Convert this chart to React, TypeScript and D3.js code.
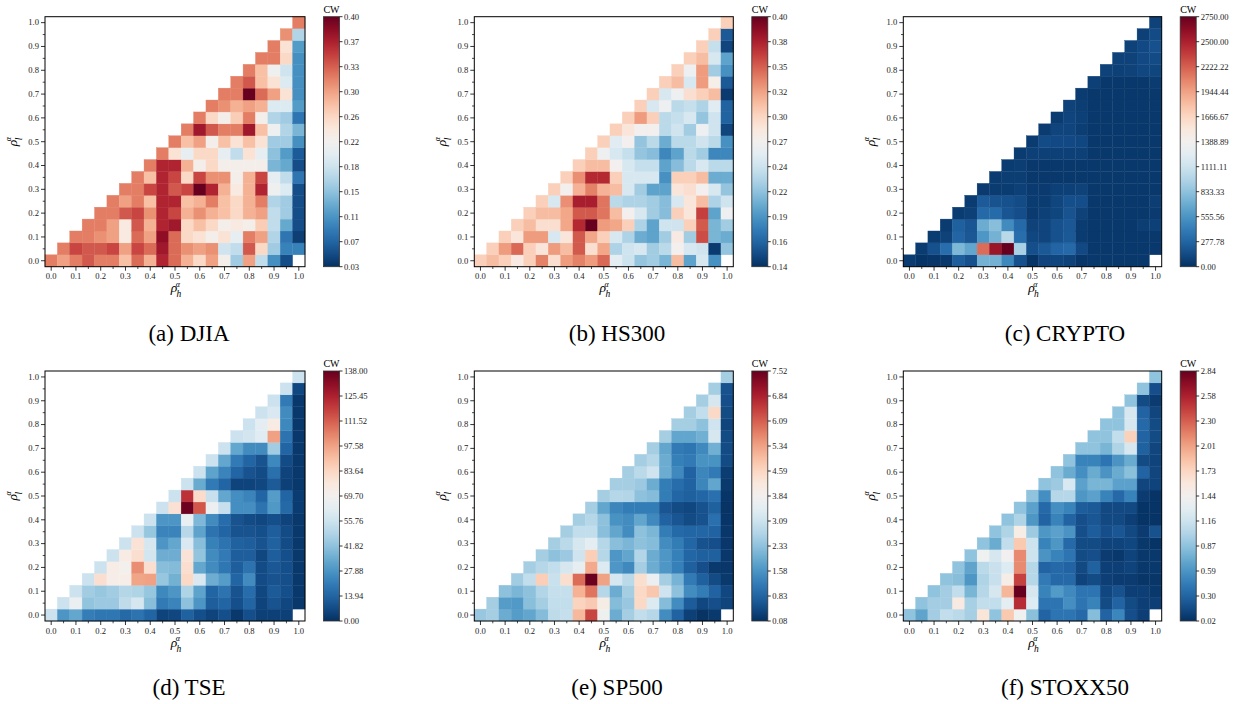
import React from "react";
import * as d3 from "d3";

// ---------- categories / ticks ----------
const RHO = [0.0, 0.05, 0.1, 0.15, 0.2, 0.25, 0.3, 0.35, 0.4, 0.45, 0.5, 0.55, 0.6, 0.65, 0.7, 0.75, 0.8, 0.85, 0.9, 0.95, 1.0];
const MAJOR_TICKS = [0.0, 0.1, 0.2, 0.3, 0.4, 0.5, 0.6, 0.7, 0.8, 0.9, 1.0];
const MAJOR_TICK_LABELS = ["0.0", "0.1", "0.2", "0.3", "0.4", "0.5", "0.6", "0.7", "0.8", "0.9", "1.0"];
const MINOR_TICKS = [0.05, 0.15, 0.25, 0.35, 0.45, 0.55, 0.65, 0.75, 0.85, 0.95];

// ---------- data: row r (rho_l = RHO[r]) holds values for rho_h = RHO[r..20] ----------
const DJIA_ROWS = [
  [0.31, 0.29, 0.31, 0.33, 0.31, 0.31, 0.27, 0.32, 0.28, 0.36, 0.32, 0.28, 0.25, 0.29, 0.22, 0.15, 0.29, 0.17, 0.10, 0.05, NaN],
  [0.31, 0.34, 0.33, 0.33, 0.34, 0.29, 0.34, 0.32, 0.37, 0.32, 0.30, 0.29, 0.30, 0.18, 0.17, 0.33, 0.25, 0.15, 0.09, 0.09],
  [0.31, 0.31, 0.30, 0.29, 0.23, 0.32, 0.29, 0.38, 0.32, 0.25, 0.24, 0.22, 0.24, 0.20, 0.31, 0.29, 0.16, 0.08, 0.04],
  [0.31, 0.31, 0.29, 0.23, 0.33, 0.28, 0.36, 0.37, 0.25, 0.27, 0.25, 0.22, 0.23, 0.22, 0.26, 0.17, 0.12, 0.05],
  [0.31, 0.31, 0.33, 0.34, 0.30, 0.36, 0.34, 0.28, 0.30, 0.28, 0.27, 0.25, 0.28, 0.29, 0.17, 0.15, 0.05],
  [0.31, 0.29, 0.31, 0.27, 0.36, 0.36, 0.27, 0.28, 0.31, 0.27, 0.25, 0.28, 0.31, 0.16, 0.15, 0.05],
  [0.31, 0.31, 0.34, 0.36, 0.33, 0.34, 0.40, 0.36, 0.28, 0.23, 0.28, 0.36, 0.21, 0.19, 0.05],
  [0.31, 0.27, 0.36, 0.34, 0.25, 0.34, 0.30, 0.30, 0.22, 0.28, 0.34, 0.20, 0.17, 0.08],
  [0.31, 0.36, 0.36, 0.28, 0.22, 0.25, 0.22, 0.22, 0.22, 0.22, 0.13, 0.12, 0.05],
  [0.31, 0.24, 0.20, 0.25, 0.25, 0.20, 0.17, 0.24, 0.20, 0.14, 0.11, 0.06],
  [0.31, 0.27, 0.29, 0.22, 0.27, 0.24, 0.27, 0.24, 0.15, 0.15, 0.10],
  [0.31, 0.37, 0.33, 0.31, 0.31, 0.37, 0.27, 0.21, 0.16, 0.13],
  [0.31, 0.25, 0.22, 0.26, 0.31, 0.22, 0.16, 0.15, 0.08],
  [0.31, 0.30, 0.28, 0.29, 0.28, 0.19, 0.19, 0.11],
  [0.31, 0.31, 0.40, 0.32, 0.29, 0.24, 0.10],
  [0.31, 0.33, 0.27, 0.24, 0.19, 0.10],
  [0.31, 0.27, 0.21, 0.18, 0.10],
  [0.31, 0.31, 0.25, 0.10],
  [0.31, 0.24, 0.11],
  [0.30, 0.16],
  [0.31],
];
const DJIA_CBAR = ["0.03", "0.07", "0.11", "0.15", "0.18", "0.22", "0.26", "0.30", "0.33", "0.37", "0.40"];

const HS300_ROWS = [
  [0.30, 0.31, 0.30, 0.28, 0.30, 0.335, 0.29, 0.325, 0.335, 0.325, 0.345, 0.257, 0.244, 0.22, 0.225, 0.21, 0.31, 0.20, 0.25, 0.19, NaN],
  [0.30, 0.325, 0.345, 0.30, 0.285, 0.325, 0.31, 0.35, 0.29, 0.32, 0.23, 0.245, 0.25, 0.225, 0.235, 0.27, 0.25, 0.245, 0.145, 0.22],
  [0.30, 0.285, 0.325, 0.325, 0.25, 0.285, 0.35, 0.32, 0.30, 0.25, 0.23, 0.205, 0.20, 0.225, 0.28, 0.225, 0.355, 0.21, 0.205],
  [0.30, 0.31, 0.29, 0.29, 0.32, 0.37, 0.40, 0.325, 0.32, 0.30, 0.23, 0.20, 0.245, 0.245, 0.30, 0.35, 0.21, 0.225],
  [0.30, 0.31, 0.31, 0.32, 0.35, 0.35, 0.34, 0.31, 0.27, 0.25, 0.225, 0.215, 0.30, 0.285, 0.36, 0.20, 0.265],
  [0.30, 0.25, 0.33, 0.375, 0.375, 0.34, 0.235, 0.23, 0.23, 0.225, 0.215, 0.25, 0.285, 0.31, 0.23, 0.245],
  [0.30, 0.27, 0.315, 0.335, 0.315, 0.31, 0.25, 0.225, 0.20, 0.20, 0.285, 0.29, 0.27, 0.25, 0.22],
  [0.30, 0.33, 0.37, 0.37, 0.30, 0.25, 0.25, 0.25, 0.19, 0.30, 0.30, 0.31, 0.205, 0.205],
  [0.30, 0.31, 0.31, 0.27, 0.25, 0.24, 0.24, 0.20, 0.215, 0.235, 0.25, 0.235, 0.235],
  [0.30, 0.265, 0.25, 0.24, 0.22, 0.215, 0.185, 0.20, 0.235, 0.225, 0.185, 0.185],
  [0.30, 0.255, 0.27, 0.22, 0.235, 0.205, 0.235, 0.235, 0.245, 0.235, 0.19],
  [0.30, 0.285, 0.27, 0.27, 0.235, 0.245, 0.225, 0.265, 0.245, 0.15],
  [0.30, 0.325, 0.30, 0.235, 0.24, 0.25, 0.22, 0.245, 0.165],
  [0.30, 0.25, 0.265, 0.235, 0.24, 0.23, 0.255, 0.165],
  [0.30, 0.25, 0.265, 0.29, 0.30, 0.31, 0.145],
  [0.30, 0.31, 0.25, 0.325, 0.275, 0.16],
  [0.30, 0.265, 0.325, 0.225, 0.19],
  [0.30, 0.31, 0.25, 0.20],
  [0.30, 0.24, 0.15],
  [0.30, 0.16],
  [0.30],
];
const HS300_CBAR = ["0.14", "0.16", "0.19", "0.22", "0.24", "0.27", "0.30", "0.32", "0.35", "0.38", "0.40"];

const CRYPTO_ROWS = [
  [60, 20, 30, 40, 240, 170, 720, 720, 480, 170, 20, 100, 110, 90, 30, 40, 40, 40, 40, 40, NaN],
  [60, 170, 330, 760, 650, 2150, 2550, 2750, 930, 160, 210, 280, 300, 130, 40, 40, 40, 40, 40, 40],
  [60, 90, 280, 200, 560, 720, 1000, 330, 120, 100, 170, 210, 60, 40, 40, 40, 40, 40, 40],
  [60, 250, 190, 690, 800, 500, 300, 90, 100, 170, 200, 60, 40, 40, 40, 40, 70, 80],
  [60, 80, 300, 310, 190, 150, 50, 80, 110, 180, 90, 40, 40, 40, 40, 40, 50],
  [60, 220, 180, 170, 140, 60, 60, 110, 160, 150, 40, 40, 40, 40, 40, 70],
  [50, 60, 60, 80, 50, 50, 80, 80, 90, 40, 40, 40, 40, 40, 40],
  [60, 70, 70, 40, 40, 40, 40, 40, 40, 40, 40, 40, 40, 40],
  [60, 70, 40, 40, 40, 40, 40, 40, 40, 40, 40, 40, 40],
  [60, 80, 80, 80, 80, 80, 40, 40, 40, 40, 40, 40],
  [60, 140, 130, 130, 120, 40, 40, 40, 40, 40, 40],
  [60, 100, 100, 70, 40, 40, 40, 40, 40, 40],
  [60, 100, 80, 40, 40, 40, 40, 40, 40],
  [90, 70, 40, 40, 40, 40, 40, 40],
  [60, 40, 40, 40, 40, 40, 40],
  [80, 40, 40, 40, 40, 60],
  [90, 80, 90, 120, 110],
  [90, 90, 130, 140],
  [90, 130, 170],
  [80, 140],
  [90],
];
const CRYPTO_CBAR = ["0.00", "277.78", "555.56", "833.33", "1111.11", "1388.89", "1666.67", "1944.44", "2222.22", "2500.00", "2750.00"];

const TSE_ROWS = [
  [55, 28, 33, 21, 19, 19, 15, 18, 14, 5, 6, 13, 8, 5, 8, 2, 8, 4, 4, 4, NaN],
  [55, 66, 42, 44, 44, 52, 58, 40, 20, 23, 41, 28, 12, 14, 8, 14, 5, 9, 6, 2],
  [55, 45, 43, 45, 49, 48, 43, 24, 28, 48, 32, 14, 18, 9, 16, 6, 11, 8, 2],
  [55, 80, 72, 72, 96, 97, 43, 36, 82, 59, 35, 30, 14, 25, 7, 9, 8, 2],
  [55, 73, 70, 101, 80, 40, 39, 80, 33, 25, 19, 12, 18, 7, 10, 8, 2],
  [55, 74, 80, 57, 35, 35, 78, 42, 25, 20, 12, 12, 6, 12, 8, 2],
  [55, 78, 58, 28, 33, 59, 40, 22, 18, 13, 12, 9, 13, 7, 2],
  [55, 43, 23, 23, 50, 32, 18, 14, 9, 9, 8, 12, 7, 2],
  [55, 28, 28, 64, 38, 25, 16, 9, 7, 6, 8, 5, 2],
  [55, 79, 137, 112, 66, 54, 26, 26, 18, 29, 15, 3],
  [55, 120, 81, 54, 33, 26, 23, 14, 30, 14, 3],
  [55, 34, 20, 14, 5, 5, 6, 11, 4, 2],
  [55, 32, 23, 14, 9, 7, 17, 5, 2],
  [55, 33, 20, 14, 9, 24, 7, 2],
  [55, 33, 25, 25, 45, 14, 2],
  [55, 57, 61, 97, 18, 2],
  [55, 62, 74, 24, 2],
  [55, 59, 25, 2],
  [55, 20, 2],
  [55, 6],
  [55],
];
const TSE_CBAR = ["0.00", "13.94", "27.88", "41.82", "55.76", "69.70", "83.64", "97.58", "111.52", "125.45", "138.00"];

const SP500_ROWS = [
  [2.4, 2.55, 1.95, 1.7, 1.85, 2.2, 2.85, 2.95, 5.0, 6.3, 3.7, 1.95, 2.55, 2.9, 2.75, 1.45, 0.8, 0.3, 0.12, 0.2, NaN],
  [2.55, 1.7, 1.65, 2.25, 2.55, 2.9, 2.9, 4.6, 4.75, 4.0, 2.2, 2.4, 4.5, 3.3, 2.2, 1.45, 0.7, 0.4, 0.5, 0.35],
  [2.3, 2.1, 2.3, 2.7, 2.95, 2.95, 5.1, 5.8, 2.75, 1.95, 2.55, 4.5, 4.8, 3.1, 2.3, 1.45, 1.2, 0.8, 0.4],
  [2.5, 2.9, 4.7, 3.0, 4.4, 5.9, 7.5, 5.3, 3.2, 2.8, 4.4, 3.6, 2.55, 2.05, 1.15, 0.75, 0.45, 0.2],
  [2.55, 2.75, 2.9, 3.2, 3.5, 5.2, 3.3, 1.6, 1.4, 2.55, 1.95, 1.6, 1.25, 0.75, 0.5, 0.2, 0.18],
  [2.55, 2.3, 2.45, 3.1, 4.7, 2.75, 1.6, 1.85, 2.7, 1.95, 1.6, 1.25, 0.85, 0.75, 0.75, 0.18],
  [2.55, 2.8, 3.2, 3.45, 2.75, 2.25, 2.1, 2.3, 2.2, 1.45, 1.2, 0.85, 0.55, 0.5, 0.18],
  [2.55, 2.9, 2.9, 2.25, 1.85, 1.45, 2.3, 2.1, 1.2, 0.9, 0.85, 0.85, 0.8, 0.18],
  [2.55, 2.75, 2.3, 1.55, 1.45, 1.85, 1.4, 0.8, 0.6, 0.45, 0.55, 1.0, 0.15],
  [2.55, 1.85, 1.35, 1.2, 1.2, 1.2, 0.6, 0.45, 0.4, 0.55, 0.75, 0.12],
  [2.55, 2.75, 2.7, 2.3, 2.2, 1.2, 0.85, 0.75, 0.85, 1.0, 0.15],
  [2.55, 2.55, 2.45, 1.95, 1.2, 0.95, 0.8, 1.35, 1.85, 0.2],
  [2.55, 2.8, 3.1, 1.95, 1.4, 0.8, 1.35, 1.15, 0.25],
  [2.55, 2.75, 1.95, 1.25, 1.15, 1.55, 1.55, 0.45],
  [2.55, 1.85, 1.15, 1.1, 1.4, 2.0, 0.45],
  [2.55, 1.85, 1.85, 2.0, 3.2, 0.45],
  [2.55, 2.55, 2.3, 3.1, 0.35],
  [2.55, 2.9, 4.5, 0.45],
  [2.55, 3.2, 0.5],
  [2.55, 0.55],
  [2.55],
];
const SP500_CBAR = ["0.08", "0.83", "1.58", "2.33", "3.09", "3.84", "4.59", "5.34", "6.09", "6.84", "7.52"];

const STOXX50_ROWS = [
  [0.87, 0.68, 0.95, 1.09, 1.05, 0.96, 1.6, 0.87, 1.8, 1.4, 0.85, 0.3, 0.4, 0.4, 0.33, 0.83, 0.3, 0.5, 0.18, 0.1, NaN],
  [0.87, 0.95, 0.95, 1.55, 0.97, 1.09, 1.09, 1.3, 2.5, 1.25, 0.4, 0.4, 0.55, 0.4, 0.48, 0.16, 0.3, 0.16, 0.1, 0.1],
  [0.87, 0.95, 1.09, 0.78, 1.03, 1.2, 1.9, 2.84, 1.2, 0.48, 0.62, 0.52, 0.4, 0.4, 0.14, 0.2, 0.1, 0.1, 0.06],
  [0.87, 0.84, 0.6, 1.0, 1.12, 1.5, 2.4, 1.03, 0.43, 0.33, 0.33, 0.12, 0.16, 0.1, 0.08, 0.08, 0.05, 0.05],
  [0.87, 0.68, 1.05, 1.13, 1.25, 2.1, 1.03, 0.3, 0.33, 0.3, 0.15, 0.28, 0.1, 0.1, 0.12, 0.06, 0.06],
  [0.87, 1.4, 1.2, 1.42, 2.1, 1.15, 0.58, 0.48, 0.4, 0.16, 0.18, 0.08, 0.06, 0.12, 0.06, 0.06],
  [0.87, 0.72, 1.09, 1.8, 1.15, 0.48, 0.6, 0.33, 0.16, 0.16, 0.12, 0.12, 0.14, 0.06, 0.04],
  [0.87, 1.0, 1.5, 0.92, 0.6, 0.66, 0.58, 0.18, 0.26, 0.18, 0.22, 0.15, 0.08, 0.2],
  [0.87, 1.0, 0.6, 0.3, 0.48, 0.3, 0.18, 0.22, 0.15, 0.15, 0.1, 0.04, 0.04],
  [0.87, 0.66, 0.33, 0.55, 0.48, 0.26, 0.24, 0.15, 0.15, 0.15, 0.04, 0.04],
  [0.87, 0.55, 1.03, 1.03, 0.6, 0.66, 0.48, 0.33, 0.48, 0.08, 0.04],
  [0.87, 0.92, 1.22, 0.66, 0.78, 0.78, 0.66, 0.66, 0.13, 0.12],
  [0.87, 0.72, 0.55, 0.72, 0.58, 0.72, 0.85, 0.3, 0.13],
  [0.87, 0.48, 0.48, 0.4, 0.58, 0.72, 0.16, 0.12],
  [0.87, 0.87, 0.78, 1.0, 1.2, 0.28, 0.13],
  [0.87, 0.87, 1.09, 1.75, 0.3, 0.16],
  [0.87, 0.87, 1.2, 0.33, 0.16],
  [0.87, 1.2, 0.3, 0.13],
  [0.87, 0.16, 0.08],
  [0.87, 0.18],
  [0.87],
];
const STOXX50_CBAR = ["0.02", "0.30", "0.59", "0.87", "1.16", "1.44", "1.73", "2.01", "2.30", "2.58", "2.84"];

const TITLES = ["(a) DJIA", "(b) HS300", "(c) CRYPTO", "(d) TSE", "(e) SP500", "(f) STOXX50"];
const PANELS = [
  { title: TITLES[0], rows: DJIA_ROWS, cbar: DJIA_CBAR },
  { title: TITLES[1], rows: HS300_ROWS, cbar: HS300_CBAR },
  { title: TITLES[2], rows: CRYPTO_ROWS, cbar: CRYPTO_CBAR },
  { title: TITLES[3], rows: TSE_ROWS, cbar: TSE_CBAR },
  { title: TITLES[4], rows: SP500_ROWS, cbar: SP500_CBAR },
  { title: TITLES[5], rows: STOXX50_ROWS, cbar: STOXX50_CBAR },
];

// ---------- layout ----------
const W = 1241;
const H = 704;
const COL_LEFT = [45, 474.3, 903.3];
const COL_W = [260, 259, 258.4];
const ROW_TOP = [16.7, 371];
const AX_H = 250;
const CB_GAP = 18.5;
const CB_W = 16;
const TITLE_X = [189, 617, 1065];
const TITLE_Y = [341, 695];
const FONT = '"Liberation Serif", "Times New Roman", Times, serif';
const TICK_FS = 8.6;

const cmap = (t: number) => d3.interpolateRdBu(1 - t);

// rho with stacked superscript alpha and subscript (single text element)
function RhoLabel({ sub }: { sub: string }) {
  return (
    <text x={0} y={0} textAnchor="middle" fontFamily={FONT} fill="#000" fontStyle="italic" fontSize={13.5}>
      ρ
      <tspan dx={-1.5} dy={-5.5} fontSize={8}>α</tspan>
      <tspan dx={-3.2} dy={10.5} fontSize={9.5}>{sub}</tspan>
    </text>
  );
}

function Panel({ idx }: { idx: number }) {
  const p = PANELS[idx];
  const col = idx % 3;
  const row = Math.floor(idx / 3);
  const left = COL_LEFT[col];
  const w = COL_W[col];
  const top = ROW_TOP[row];
  const bottom = top + AX_H;
  const labels = RHO.map((d) => d.toFixed(2));

  const x = d3.scaleBand<string>().domain(labels).range([left, left + w]).padding(0);
  const y = d3.scaleBand<string>().domain(labels).range([bottom, top]).padding(0);
  const xc = d3.scaleLinear().domain([0, 1]).range([left + x.bandwidth() / 2, left + w - x.bandwidth() / 2]);
  const yc = d3.scaleLinear().domain([0, 1]).range([bottom - y.bandwidth() / 2, top + y.bandwidth() / 2]);

  const vmin = +p.cbar[0];
  const vmax = +p.cbar[p.cbar.length - 1];
  const color = d3.scaleSequential(cmap).domain([vmin, vmax]).clamp(true);

  const cells: { key: string; x: number; y: number; fill: string }[] = [];
  p.rows.forEach((vals, r) => {
    vals.forEach((v, k) => {
      const c = r + k;
      if (Number.isNaN(v)) return;
      cells.push({ key: `${r}-${c}`, x: x(labels[c])!, y: y(labels[r])!, fill: color(v) });
    });
  });

  const cbLeft = left + w + CB_GAP;
  const cbY = d3.scaleLinear().domain([0, p.cbar.length - 1]).range([bottom, top]);
  const gradId = `cbgrad-${idx}`;
  const stops = d3.range(0, 1.0001, 0.05);

  return (
    <g>
      {/* cells */}
      <g>
        {cells.map((d) => (
          <rect key={d.key} x={d.x} y={d.y} width={x.bandwidth()} height={y.bandwidth()} fill={d.fill} stroke={d.fill} strokeWidth={0.35} />
        ))}
      </g>
      {/* frame */}
      <rect x={left} y={top} width={w} height={AX_H} fill="none" stroke="#000" strokeWidth={1} />
      {/* x ticks */}
      {MAJOR_TICKS.map((t, i) => (
        <g key={`xt${i}`}>
          <line x1={xc(t)} x2={xc(t)} y1={bottom} y2={bottom + 4} stroke="#000" strokeWidth={0.8} />
          <text x={xc(t)} y={bottom + 12.5} textAnchor="middle" fontSize={TICK_FS} fontFamily={FONT} fill="#222">
            {MAJOR_TICK_LABELS[i]}
          </text>
        </g>
      ))}
      {MINOR_TICKS.map((t, i) => (
        <line key={`xm${i}`} x1={xc(t)} x2={xc(t)} y1={bottom} y2={bottom + 2.3} stroke="#000" strokeWidth={0.7} />
      ))}
      {/* y ticks */}
      {MAJOR_TICKS.map((t, i) => (
        <g key={`yt${i}`}>
          <line x1={left - 4} x2={left} y1={yc(t)} y2={yc(t)} stroke="#000" strokeWidth={0.8} />
          <text x={left - 6} y={yc(t)} dy="0.33em" textAnchor="end" fontSize={TICK_FS} fontFamily={FONT} fill="#222">
            {MAJOR_TICK_LABELS[i]}
          </text>
        </g>
      ))}
      {MINOR_TICKS.map((t, i) => (
        <line key={`ym${i}`} x1={left - 2.3} x2={left} y1={yc(t)} y2={yc(t)} stroke="#000" strokeWidth={0.7} />
      ))}
      {/* axis labels */}
      <g transform={`translate(${left + w / 2 + 1},${bottom + 25.5})`}>
        <RhoLabel sub="h" />
      </g>
      <g transform={`translate(${left - 28.5},${top + AX_H / 2}) rotate(-90)`}>
        <RhoLabel sub="l" />
      </g>
      {/* colorbar */}
      <defs>
        <linearGradient id={gradId} x1="0" y1="1" x2="0" y2="0">
          {stops.map((s, i) => (
            <stop key={i} offset={`${s * 100}%`} stopColor={cmap(s)} />
          ))}
        </linearGradient>
      </defs>
      <rect x={cbLeft} y={top} width={CB_W} height={AX_H} fill={`url(#${gradId})`} stroke="#333" strokeWidth={0.8} />
      {p.cbar.map((lab, i) => (
        <g key={`cb${i}`}>
          <line x1={cbLeft + CB_W} x2={cbLeft + CB_W + 3} y1={cbY(i)} y2={cbY(i)} stroke="#000" strokeWidth={0.8} />
          <text x={cbLeft + CB_W + 4.5} y={cbY(i)} dy="0.33em" fontSize={TICK_FS} fontFamily={FONT} fill="#222">
            {lab}
          </text>
        </g>
      ))}
      <text x={cbLeft + CB_W / 2} y={top - 4} textAnchor="middle" fontSize={10} fontFamily={FONT} fill="#000">
        CW
      </text>
      {/* title */}
      <text x={TITLE_X[col]} y={TITLE_Y[row]} textAnchor="middle" fontSize={23} fontFamily={FONT} fill="#000">
        {p.title}
      </text>
    </g>
  );
}

export default function App() {
  return (
    <svg width={W} height={H} viewBox={`0 0 ${W} ${H}`} style={{ position: "absolute", left: 0, top: 0, background: "#fff" }}>
      <rect x={0} y={0} width={W} height={H} fill="#fff" />
      {PANELS.map((_, i) => (
        <Panel key={i} idx={i} />
      ))}
    </svg>
  );
}
